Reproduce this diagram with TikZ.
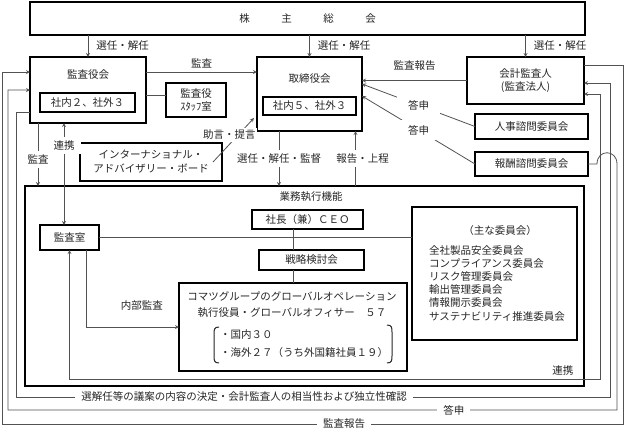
\documentclass[tikz,border=0pt]{standalone}
\usepackage{fontspec}
\setmainfont{Noto Sans CJK JP}
\begin{document}
\begin{tikzpicture}[x=1pt, y=-1pt, >=stealth,
    font=\fontsize{10.5pt}{13.5pt}\selectfont,
    % Styles
    box/.style={draw, line width=1.4pt, inner sep=0pt, outer sep=0pt, align=center, text=black!85},
    inbox/.style={draw, line width=1.1pt, inner sep=0pt, outer sep=0pt, align=center, text=black!85},
    conn/.style={line width=0.8pt, draw=black!68},
    arr/.style={conn, ->},
    darr/.style={conn, <->},
    lbl/.style={text=black!85, inner sep=2pt},
    cut/.style={lbl, fill=white, inner xsep=6pt, inner ysep=4pt},
  ]
  \path[use as bounding box, fill=white] (0,0) rectangle (625,437);

  % Shareholders' meeting
  \node[box, minimum width=555pt, minimum height=33pt] (gm) at (307.5,18.5) {株　　　主　　　総　　　会};

  % Audit & Supervisory Board
  \node[box, minimum width=116pt, minimum height=66pt] (kab) at (88,90) {};
  \node[lbl] (kabtitle) at (88,75) {監査役会};
  \node[inbox, minimum width=95pt, minimum height=19pt] (kabmem) at (87.5,102.5) {社内２、社外３};
  \node[box, minimum width=60pt, minimum height=34pt] (staff) at (196,100) {監査役\\ｽﾀｯﾌ室};

  % Board of Directors
  \node[box, minimum width=105pt, minimum height=74pt] (bod) at (309.5,94) {};
  \node[lbl] (bodtitle) at (309.5,79) {取締役会};
  \node[inbox, minimum width=93pt, minimum height=18pt] (bodmem) at (309.5,106) {社内５、社外３};

  % Accounting auditor, advisory committees
  \node[box, minimum width=117pt, minimum height=47pt] (ca) at (525.5,80.5) {会計監査人\\(監査法人)};
  \node[box, minimum width=113pt, minimum height=25pt] (nom) at (531.5,126.5) {人事諮問委員会};
  \node[box, minimum width=113pt, minimum height=24pt] (comp) at (531.5,164) {報酬諮問委員会};
  \node[box, minimum width=142pt, minimum height=38pt, font=\fontsize{10.5pt}{14pt}\selectfont] (iab) at (151,162) {インターナショナル・\\アドバイザリー・ボード};

  % Business execution
  \node[box, minimum width=559pt, minimum height=200pt] (exec) at (304.5,286) {};
  \node[lbl] (exectitle) at (311,197) {業務執行機能};
  \node[box, minimum width=59pt, minimum height=25pt] (ia) at (69.5,237.5) {監査室};
  \node[box, minimum width=111pt, minimum height=19pt] (ceo) at (307.5,219.5) {社長（兼）ＣＥＯ};
  \node[box, minimum width=105pt, minimum height=20pt] (strat) at (311.5,260) {戦略検討会};
  \node[box, minimum width=228pt, minimum height=88pt] (glob) at (293,327) {};
  \node[lbl] (globtitle) at (292,296) {コマツグループのグローバルオペレーション};
  \node[lbl] (officers) at (292,313) {執行役員・グローバルオフィサー　５７};
  \node[lbl, anchor=west] (dom) at (218,335) {・国内３０};
  \node[lbl, anchor=west] (ovs) at (218,353) {・海外２７（うち外国籍社員１９）};
  \draw[line width=1pt, black!85] (219,327) .. controls (214,327) and (214,330) .. (214,334) -- (214,356) .. controls (214,360) and (214,363) .. (219,363);
  \draw[line width=1pt, black!85] (387,325) .. controls (392,325) and (392,328) .. (392,332) -- (392,356) .. controls (392,360) and (392,363) .. (387,363);
  \node[box, minimum width=165pt, minimum height=133pt] (cmte) at (494.5,273.5) {};
  \node[lbl] (cmtetitle) at (500,231) {（主な委員会）};
  \node[lbl, anchor=north west, align=left, inner sep=0pt, font=\fontsize{10.5pt}{13.2pt}\selectfont] (cmtelist) at (429,245) {全社製品安全委員会\\コンプライアンス委員会\\リスク管理委員会\\輸出管理委員会\\情報開示委員会\\サステナビリティ推進委員会};

  % Rails
  \coordinate (rc) at (600,379);
  \coordinate (lb) at (16,397);
  \coordinate (rb) at (610,397);
  \coordinate (hopa) at (597,164);
  \coordinate (hopb) at (617,164);
  \coordinate (tr) at (617,410);
  \coordinate (tl) at (8,410);
  \coordinate (mr) at (623,424);
  \coordinate (ml) at (2,424);

  % Arrows
  \draw[arr] (kab.north |- gm.south) -- (kab.north) node[midway, right=6pt, lbl] {選任・解任};
  \draw[arr] (bod.north |- gm.south) -- (bod.north) node[midway, right=6pt, lbl] {選任・解任};
  \draw[arr] (ca.north |- gm.south) -- (ca.north) node[midway, right=6pt, lbl] {選任・解任};
  \draw[arr] ([yshift=18pt]kab.east) -- ([yshift=18pt]bod.west |- kab.east) node[midway, above=1pt, lbl] {監査};
  \draw[arr] (ca.west) -- (ca.west -| bod.east) node[midway, above=8pt, lbl] {監査報告};
  \draw[conn] ([yshift=5pt]staff.west) -- ([yshift=5pt]kab.east |- staff.west);
  \draw[arr] (nom.west) -- ([yshift=10pt]bod.east) node[midway, cut, inner xsep=11pt, inner ysep=5pt] {答申};
  \draw[arr] (comp.west) -- ([yshift=-2pt]bod.east) node[midway, cut, inner xsep=11pt, inner ysep=5pt] {答申};
  \draw[arr] ([xshift=-9pt]iab.east) -- ([xshift=-3pt, yshift=13pt]bod.south west) node[pos=0.62, cut, xshift=-9pt, inner xsep=1pt, inner ysep=2pt] {助言・提言};
  \draw[arr] ([xshift=-30.5pt]bod.south) -- ([xshift=-30.5pt]bod.south |- exec.north) node[midway, cut] {選任・解任・監督};
  \draw[arr] ([xshift=46pt]bod.south |- exec.north) -- ([xshift=46pt]bod.south) node[midway, cut, xshift=7pt] {報告・上程};
  \draw[arr] ([xshift=8pt]kab.south west) -- ([xshift=8pt]kab.south west |- exec.north) node[pos=0.58, cut] {監査};
  \draw[darr] ([xshift=-5.5pt]ia.north |- kab.south) -- ([xshift=-5.5pt]ia.north) node[pos=0.22, cut] {連携};
  \draw[conn] (ceo.south -| glob.north) -- (strat.north -| glob.north);
  \draw[conn] (strat.south -| glob.north) -- (glob.north);
  \draw[conn] (ia.east) -- (ia.east -| cmte.west);
  \draw[arr] ([xshift=16.5pt]ia.south) |- (glob.west) node[pos=0.8, above=14pt, lbl] {内部監査};
  \draw[darr] (ia.south) |- node[pos=0.965, above=1pt, lbl] {連携} (rc) |- ([yshift=-13.5pt]ca.east);
  \draw[arr] ([yshift=-22pt]kab.west) -| (lb) -- (rb) node[pos=0.384, cut, inner ysep=2pt] {選解任等の議案の内容の決定・会計監査人の相当性および独立性確認} |- ([yshift=-2.5pt]ca.east);
  \draw[arr] (comp.east) -- (hopa) .. controls +(0,-15) and +(0,-15) .. (hopb) -- (tr) -- (tl) node[pos=0.268, cut, inner ysep=2pt] {答申} |- (kab.west);
  \draw[arr] ([yshift=15.5pt]ca.east) -| (mr) -- (ml) node[pos=0.449, cut, inner ysep=2pt] {監査報告} |- ([yshift=18pt]kab.west);

\end{tikzpicture}
\end{document}
